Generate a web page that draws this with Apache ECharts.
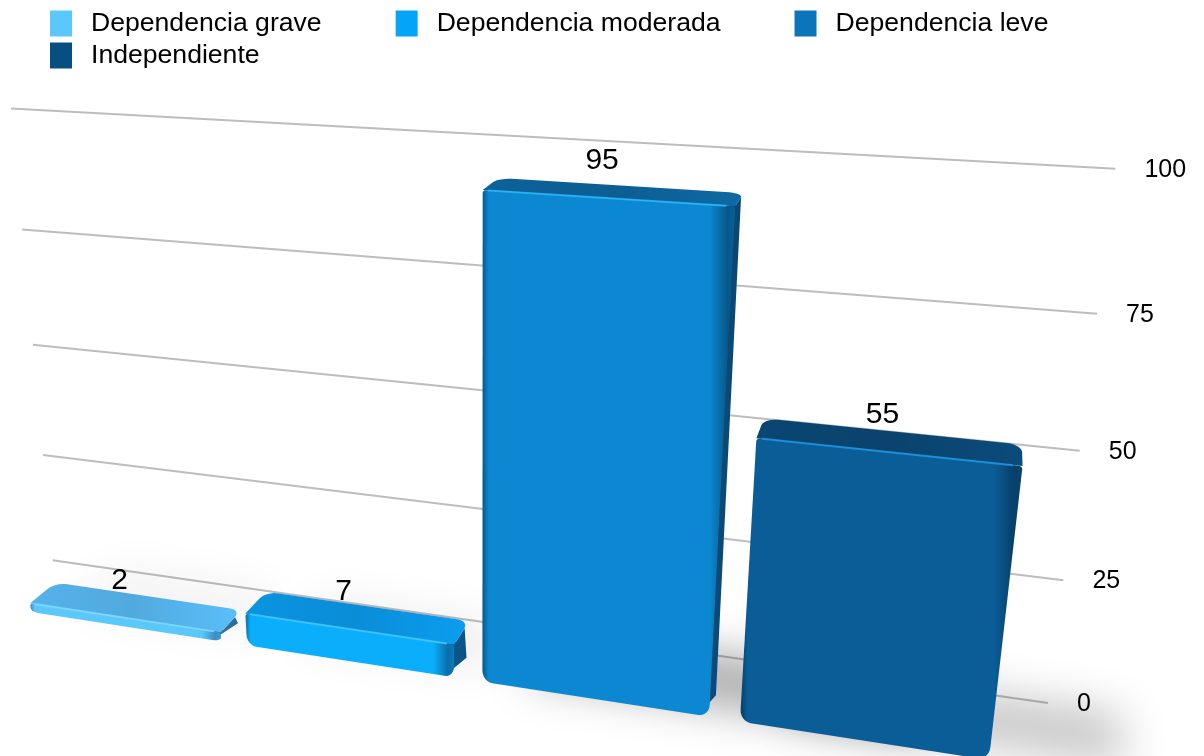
<!DOCTYPE html>
<html>
<head>
<meta charset="utf-8">
<script src="https://cdn.jsdelivr.net/npm/echarts@6/dist/echarts.min.js"></script>
<style>
html,body{margin:0;padding:0;background:#ffffff;}
#chart{width:1204px;height:756px;}
</style>
</head>
<body>
<div id="chart"></div>
<script>
// ---------------- data ----------------
const categories = ['Dependencia grave', 'Dependencia moderada', 'Dependencia leve', 'Independiente'];
const seriesNames = ['Dependencia grave', 'Dependencia moderada', 'Dependencia leve', 'Independiente'];
const values = [2, 7, 95, 55];
const yTicks = [0, 25, 50, 75, 100];
const yTickLabels = ['0', '25', '50', '75', '100'];

// ---------------- styles ----------------
const FONT = "'Liberation Sans', Arial, Helvetica, sans-serif";
const legendColors = ['#5AC8FA', '#06A4F6', '#0A75BA', '#074F80'];
const frontColors  = ['#5AC8FA', '#0AAEFA', '#0B88D1', '#0A5D96'];
const frontEdge    = ['#3A8FC4', '#0A6FA8', '#08578A', '#073F68'];
const topColors    = ['#51AADF', '#0A8DD7', '#0C5E93', '#0A436D'];
const sideColors   = ['#2C6B96', '#0A5284', '#0A4672', '#073458'];
const hiColors     = ['#7FD6FF', '#3EC4FF', '#2AB1F6', '#1C94E2'];

// ---------------- perspective camera (layout) ----------------
const O  = [31, 612];
const VX = [-5000, -165];
const VY = [480, 5200];
const VZ = [1000, -200];
const KA = -0.04117, KB = -0.000948, KC = 0.02646;
const BAR_W = 0.885;     // bar width in band units
const BAR_D = 1;         // bar depth
const WALL_Z = 2.317;    // depth of back wall
const WALL_X0 = -0.175, WALL_X1 = 4.096;

function proj(X, Y, Z) {
  const hx = O[0] + KA * X * VX[0] + KB * Y * VY[0] + KC * Z * VZ[0];
  const hy = O[1] + KA * X * VX[1] + KB * Y * VY[1] + KC * Z * VZ[1];
  const hw = 1 + KA * X + KB * Y + KC * Z;
  return [hx / hw, hy / hw];
}

// world coords read through the (hidden) cartesian axes
function worldOf(params, api) {
  const cs = params.coordSys;
  const p = api.coord([api.value(0), api.value(1)]);
  const p0 = api.coord([api.value(0), 0]);
  const band = api.size([1, 0])[0];
  const unit = api.size([0, 1])[1];
  const xc = (p[0] - cs.x) / band;        // band centre (i + 0.5)
  const y = (p0[1] - p[1]) / unit;        // value
  return { xl: xc - 0.5, xr: xc - 0.5 + BAR_W, y: y, idx: Math.round(xc - 0.5) };
}

function rrPoints(u0, u1, v0, v1, rt, rb, map, N) {
  N = N || 6;
  const pts = [];
  const arc = (cu, cv, ru, rv, a0, a1) => {
    for (let k = 0; k <= N; k++) {
      const a = a0 + (a1 - a0) * k / N;
      pts.push(map(cu + ru * Math.cos(a), cv + rv * Math.sin(a)));
    }
  };
  arc(u1 - rt[0], v1 - rt[1], rt[0], rt[1], Math.PI / 2, 0);
  arc(u1 - rb[0], v0 + rb[1], rb[0], rb[1], 0, -Math.PI / 2);
  arc(u0 + rb[0], v0 + rb[1], rb[0], rb[1], -Math.PI / 2, -Math.PI);
  arc(u0 + rt[0], v1 - rt[1], rt[0], rt[1], Math.PI, Math.PI / 2);
  return pts;
}

function lg(stops) {
  return new echarts.graphic.LinearGradient(0, 0, 1, 0, stops);
}

// ---------- wall grid lines + tick labels ----------
function renderWall(params, api) {
  const w = worldOf(params, api);
  const a = proj(WALL_X0, w.y, WALL_Z);
  const b = proj(WALL_X1, w.y, WALL_Z);
  return {
    type: 'group',
    children: [
      { type: 'line', shape: { x1: a[0], y1: a[1], x2: b[0], y2: b[1] },
        style: { stroke: '#BDBDBD', lineWidth: 2 } },
      { type: 'text', x: b[0] + 29, y: b[1] + 1,
        style: { text: yTickLabels[params.dataIndex], font: '25px ' + FONT, fill: '#000',
                 align: 'left', verticalAlign: 'middle' } }
    ]
  };
}

// ---------- floor shadows ----------
const OFF = 3000;
function renderShadow(params, api) {
  const w = worldOf(params, api);
  const h = w.y / 100;
  const u0 = w.xl + 0.15, u1 = w.xr + 0.05 + 0.75 * h;
  const pts = [[u0, 0.5], [u1, 0.5], [u1, WALL_Z], [u0, WALL_Z]].map(q => {
    const p = proj(q[0], 0, q[1]);
    return [p[0] - OFF, p[1]];
  });
  return {
    type: 'polygon', shape: { points: pts },
    style: { fill: '#000', shadowBlur: 45, shadowOffsetX: OFF, shadowOffsetY: 0,
             shadowColor: 'rgba(0,0,0,' + (0.05 + 0.33 * h).toFixed(3) + ')' }
  };
}

// ---------- bars ----------
function renderBar(params, api) {
  const w = worldOf(params, api);
  const i = w.idx, Y = w.y, xl = w.xl, xr = w.xr;
  const children = [];
  // right side face (rounded bevel look)
  const fT = proj(xr, Y, 0), bT = proj(xr, Y, BAR_D);
  if (bT[0] > fT[0] + 0.5) {
    const side = [proj(xr - 0.03, Y, 0), proj(xr, Y, 0.12), proj(xr, Y, 0.68), proj(xr, 0, 0.8), proj(xr - 0.04, 0, 0)];
    children.push({ type: 'polygon', shape: { points: side },
      style: { fill: lg([{ offset: 0, color: echarts.color.lift(sideColors[i], -0.1) }, { offset: 1, color: sideColors[i] }]) } });
  }
  // top face
  const topPts = rrPoints(xl, xr, 0, BAR_D, [0.05, 0.35], [0.001, 0.001], (u, v) => proj(u, Y, v), 6);
  children.push({ type: 'polygon', shape: { points: topPts },
    style: { fill: lg([{ offset: 0, color: echarts.color.lift(topColors[i], -0.05) }, { offset: 0.5, color: topColors[i] }, { offset: 1, color: echarts.color.lift(topColors[i], -0.12) }]) } });
  // front face
  const rt = [0.012, Math.min(0.6, Y / 4)];
  const rb = [0.04, Math.min(2.4, Y / 2.2)];
  const frontPts = rrPoints(xl, xr, 0, Y, rt, rb, (u, v) => proj(u, v, 0), 6);
  children.push({ type: 'polygon', shape: { points: frontPts },
    style: { fill: lg([
      { offset: 0, color: frontEdge[i] },
      { offset: 0.025, color: frontColors[i] },
      { offset: 0.9, color: frontColors[i] },
      { offset: 0.97, color: frontEdge[i] },
      { offset: 1, color: echarts.color.lift(frontEdge[i], -0.1) }
    ]) } });
  // highlight on front-top edge
  const h1 = proj(xl + 0.02, Y, 0), h2 = proj(xr - 0.03, Y, 0);
  children.push({ type: 'line', shape: { x1: h1[0], y1: h1[1], x2: h2[0], y2: h2[1] },
    style: { stroke: hiColors[i], lineWidth: 2, opacity: 0.9 } });
  // value label
  const c = proj((xl + xr) / 2, Y, 0);
  children.push({ type: 'text', x: c[0] - 4, y: c[1] - 37,
    style: { text: String(values[i]), font: '30px ' + FONT, fill: '#000', align: 'center', verticalAlign: 'middle' } });
  return { type: 'group', children: children };
}

// ---------------- chart ----------------
const chart = echarts.init(document.getElementById('chart'), null, { renderer: 'canvas' });

const barSeries = seriesNames.map((name, i) => ({
  type: 'custom', name: name, coordinateSystem: 'cartesian2d', clip: false, silent: true, z: 3,
  itemStyle: { color: legendColors[i] },
  data: [[categories[i], values[i]]],
  renderItem: renderBar
}));

const legendText = { fontSize: 26.6, color: '#000', padding: [0, 0, 0, 14], fontFamily: FONT };
const option = {
  animation: false,
  backgroundColor: '#ffffff',
  textStyle: { fontFamily: FONT },
  legend: [
    { data: seriesNames.slice(0, 3), left: 50, top: 10, padding: 0, icon: 'rect', itemWidth: 22, itemHeight: 26,
      itemGap: 74, textStyle: legendText },
    { data: seriesNames.slice(3), left: 50, top: 42, padding: 0, icon: 'rect', itemWidth: 22, itemHeight: 26,
      itemGap: 74, textStyle: legendText }
  ],
  grid: { left: 0, top: 0, width: 400, height: 400, show: false },
  xAxis: { type: 'category', data: categories, show: false },
  yAxis: { type: 'value', min: 0, max: 100, interval: 25, show: false },
  series: [
    { type: 'custom', name: 'wall', coordinateSystem: 'cartesian2d', clip: false, silent: true, z: 1,
      data: yTicks.map(t => [categories[0], t]), renderItem: renderWall },
    { type: 'custom', name: 'shadow', coordinateSystem: 'cartesian2d', clip: false, silent: true, z: 2,
      data: values.map((v, i) => [categories[i], v]), renderItem: renderShadow }
  ].concat(barSeries)
};
chart.setOption(option);
</script>
</body>
</html>
